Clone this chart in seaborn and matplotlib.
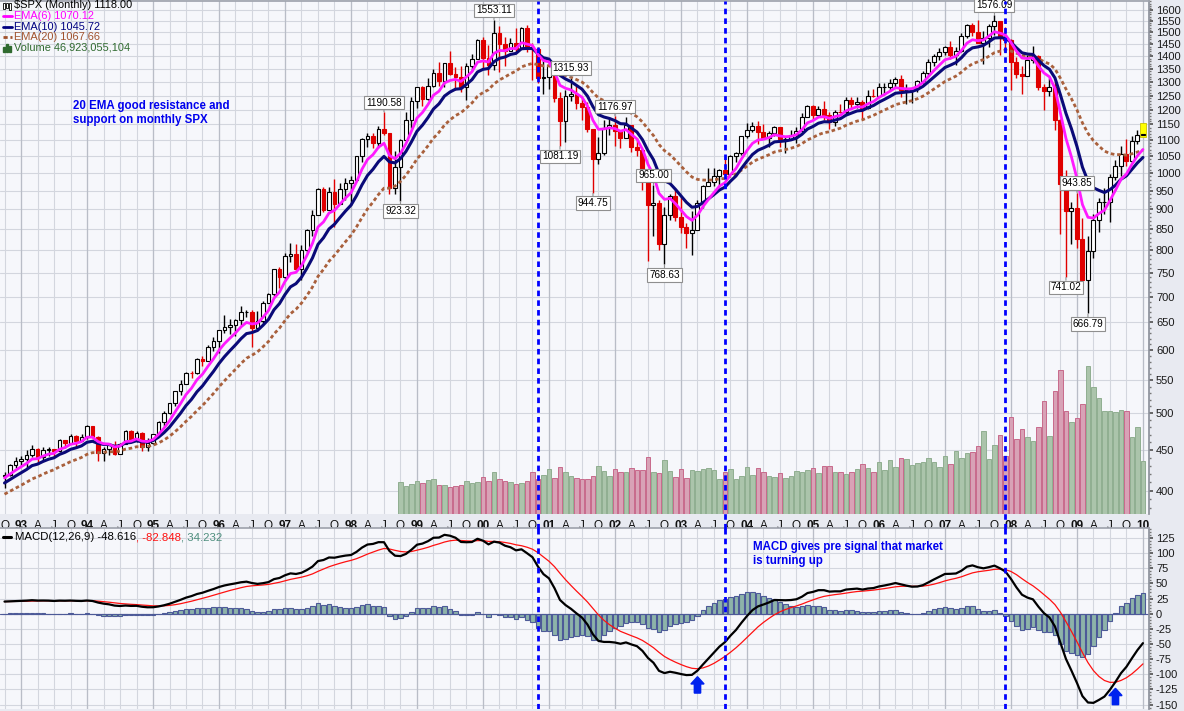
import numpy as np
import pandas as pd
import matplotlib
matplotlib.use("Agg")
import matplotlib.pyplot as plt
import seaborn as sns
from matplotlib.lines import Line2D
from matplotlib.patches import FancyArrow, Rectangle
from matplotlib.offsetbox import TextArea, HPacker, AnchoredOffsetbox
from matplotlib.ticker import FixedLocator, NullFormatter

sns.set_theme(style="white")
plt.rcParams["font.family"] = ["Liberation Sans", "DejaVu Sans"]

# ---------------- data (monthly $SPX, Oct 1992 .. Jan 2010) ----------------
first_month = "1992-10"

opens = [
    417.80, 418.68, 431.35,
    435.71, 438.78, 443.38, 451.67, 440.19, 450.19, 450.53, 448.13, 463.56, 458.93, 467.83, 461.79,
    466.45, 481.61, 467.14, 445.77, 450.91, 456.50, 444.27, 458.26, 475.49, 462.69, 472.35, 453.69,
    459.27, 470.42, 487.39, 500.71, 514.71, 533.40, 544.75, 562.06, 561.88, 584.41, 581.50, 605.37,
    615.93, 636.02, 640.43, 645.50, 654.17, 669.12, 670.63, 639.95, 651.99, 687.31, 705.27, 757.02,
    740.74, 786.16, 790.82, 757.12, 801.34, 848.28, 885.14, 954.29, 899.47, 947.28, 914.62, 955.40,
    970.43, 980.28, 1049.34, 1101.75, 1111.75, 1090.82, 1133.84, 1120.67, 957.28, 1017.01, 1098.67, 1163.63,
    1229.23, 1279.64, 1238.33, 1286.37, 1335.18, 1301.84, 1372.71, 1328.72, 1320.41, 1282.71, 1362.93, 1388.91,
    1469.25, 1394.46, 1366.42, 1498.58, 1452.43, 1420.60, 1454.60, 1430.83, 1517.68, 1436.51, 1429.40, 1314.95,
    1320.28, 1366.01, 1239.94, 1160.33, 1249.46, 1255.82, 1224.42, 1211.23, 1133.58, 1040.94, 1059.78, 1139.45,
    1148.08, 1130.20, 1106.73, 1147.39, 1076.92, 1067.14, 989.82, 911.62, 916.07, 815.28, 885.76, 936.31,
    879.82, 855.70, 841.15, 848.18, 916.92, 963.59, 974.50, 990.31, 1008.01, 995.97, 1050.71, 1058.20,
    1111.92, 1131.13, 1144.94, 1126.21, 1107.30, 1120.68, 1140.84, 1101.72, 1104.24, 1114.58, 1130.20, 1173.82,
    1211.92, 1181.27, 1203.60, 1180.59, 1156.85, 1191.50, 1191.33, 1234.18, 1220.33, 1228.81, 1207.01, 1249.48,
    1248.29, 1280.08, 1280.66, 1294.83, 1310.61, 1270.09, 1270.20, 1276.66, 1303.82, 1335.85, 1377.94, 1400.63,
    1418.30, 1438.24, 1406.82, 1420.86, 1482.37, 1530.62, 1503.35, 1455.27, 1473.99, 1526.75, 1549.38, 1481.14,
    1468.36, 1378.55, 1330.63, 1322.70, 1385.59, 1400.38, 1280.00, 1267.38, 1282.83, 1166.36, 968.75, 896.24,
    903.25, 825.88, 735.09, 797.87, 872.81, 919.14, 919.32, 987.48, 1020.62, 1057.08, 1036.19, 1095.63,
    1115.10,
]

highs = [
    422.20, 431.52, 441.28,
    442.65, 449.56, 456.88, 452.07, 453.47, 453.85, 450.53, 464.75, 463.56, 470.89, 469.74, 470.94,
    482.85, 482.23, 468.27, 453.11, 457.63, 462.12, 459.30, 477.18, 476.07, 475.23, 473.26, 466.05,
    471.36, 489.19, 503.90, 515.29, 533.41, 551.07, 563.84, 565.50, 586.21, 589.32, 608.20, 622.88,
    636.18, 664.23, 656.97, 656.68, 681.14, 673.31, 672.59, 670.70, 690.88, 707.19, 757.03, 761.75,
    794.67, 817.68, 814.90, 812.93, 851.87, 898.70, 957.73, 960.32, 960.46, 983.12, 972.56, 986.25,
    992.65, 1050.32, 1105.65, 1123.01, 1121.02, 1145.15, 1190.58, 1121.37, 1066.11, 1103.78, 1192.97, 1244.93,
    1280.07, 1283.76, 1316.50, 1350.00, 1375.98, 1375.00, 1420.33, 1357.08, 1361.90, 1373.17, 1410.68, 1473.19,
    1478.00, 1444.55, 1553.11, 1527.19, 1481.51, 1474.63, 1517.32, 1525.21, 1530.09, 1454.82, 1438.46, 1389.06,
    1383.37, 1376.38, 1263.47, 1269.30, 1315.93, 1286.62, 1239.78, 1226.27, 1133.58, 1110.61, 1163.38, 1173.62,
    1176.97, 1130.20, 1173.94, 1147.84, 1106.59, 1070.74, 994.46, 965.00, 924.02, 907.44, 941.82, 954.28,
    935.05, 864.64, 895.90, 924.24, 965.38, 1015.33, 1015.41, 1011.01, 1040.29, 1053.79, 1063.65, 1112.56,
    1155.38, 1158.98, 1163.23, 1150.57, 1127.74, 1146.34, 1140.84, 1108.60, 1131.54, 1142.05, 1188.46, 1217.33,
    1217.80, 1212.44, 1229.11, 1191.88, 1199.56, 1219.59, 1245.15, 1245.86, 1243.13, 1233.34, 1270.64, 1275.80,
    1294.90, 1297.57, 1310.88, 1318.16, 1326.70, 1290.68, 1280.42, 1306.74, 1340.28, 1389.45, 1407.89, 1431.81,
    1441.61, 1461.57, 1438.89, 1498.02, 1535.56, 1540.56, 1555.90, 1503.89, 1538.74, 1576.09, 1545.79, 1523.57,
    1471.77, 1396.02, 1359.68, 1404.57, 1440.24, 1404.05, 1292.17, 1313.15, 1303.04, 1167.03, 1007.51, 918.85,
    943.85, 877.86, 832.98, 888.70, 930.17, 956.23, 996.68, 1039.47, 1080.15, 1101.36, 1113.69, 1130.38,
    1150.45,
]

lows = [
    402.66, 416.97, 426.72,
    429.76, 426.92, 440.87, 432.36, 436.51, 441.73, 441.24, 447.26, 452.03, 458.93, 454.36, 461.79,
    464.46, 464.26, 436.16, 435.86, 443.75, 442.88, 444.27, 457.65, 462.27, 460.30, 449.05, 449.05,
    457.20, 469.29, 481.46, 499.01, 510.91, 527.41, 543.38, 553.16, 559.26, 573.50, 580.64, 597.98,
    594.87, 630.01, 627.63, 624.10, 644.65, 661.04, 605.88, 639.95, 649.29, 686.49, 701.34, 716.69,
    737.01, 773.43, 756.13, 733.54, 793.21, 833.08, 885.14, 894.75, 899.47, 855.27, 914.62, 926.01,
    912.83, 980.28, 1032.10, 1076.70, 1074.67, 1074.40, 1114.30, 939.98, 939.98, 923.32, 1098.67, 1136.89,
    1205.46, 1211.89, 1234.16, 1282.87, 1283.82, 1281.41, 1325.86, 1268.68, 1263.87, 1233.70, 1343.03, 1387.38,
    1350.14, 1325.07, 1346.62, 1339.40, 1361.09, 1420.60, 1415.33, 1430.83, 1419.44, 1305.79, 1294.90, 1254.07,
    1274.62, 1228.33, 1081.19, 1091.99, 1232.00, 1203.03, 1165.54, 1124.87, 944.75, 1026.76, 1054.31, 1114.51,
    1081.66, 1074.36, 1106.73, 1063.46, 1048.96, 952.92, 775.68, 833.44, 800.20, 768.63, 872.05, 869.45,
    840.34, 806.29, 788.90, 847.85, 902.83, 963.59, 962.10, 960.84, 990.36, 995.97, 1031.20, 1053.41,
    1105.08, 1124.44, 1087.16, 1107.23, 1076.32, 1113.32, 1078.78, 1060.72, 1101.29, 1090.19, 1127.60, 1173.76,
    1163.75, 1180.95, 1163.69, 1136.15, 1146.18, 1188.30, 1183.55, 1201.07, 1205.35, 1168.20, 1201.07, 1246.59,
    1245.74, 1253.61, 1268.42, 1280.74, 1245.34, 1219.29, 1224.54, 1261.30, 1290.93, 1327.10, 1360.98, 1385.93,
    1403.97, 1389.42, 1363.98, 1416.37, 1476.70, 1484.18, 1454.25, 1370.60, 1439.29, 1489.56, 1406.10, 1435.65,
    1270.05, 1316.75, 1256.98, 1324.35, 1373.07, 1272.00, 1200.44, 1248.64, 1133.50, 839.80, 741.02, 815.69,
    804.47, 734.52, 666.79, 783.32, 843.55, 888.86, 869.32, 978.51, 991.97, 1020.18, 1029.38, 1085.89,
    1114.00,
]

closes = [
    418.68, 431.35, 435.71,
    438.78, 443.38, 451.67, 440.19, 450.19, 450.53, 448.13, 463.56, 458.93, 467.83, 461.79, 466.45,
    481.61, 467.14, 445.77, 450.91, 456.50, 444.27, 458.26, 475.49, 462.69, 472.35, 453.69, 459.27,
    470.42, 487.39, 500.71, 514.71, 533.40, 544.75, 562.06, 561.88, 584.41, 581.50, 605.37, 615.93,
    636.02, 640.43, 645.50, 654.17, 669.12, 670.63, 639.95, 651.99, 687.31, 705.27, 757.02, 740.74,
    786.16, 790.82, 757.12, 801.34, 848.28, 885.14, 954.29, 899.47, 947.28, 914.62, 955.40, 970.43,
    980.28, 1049.34, 1101.75, 1111.75, 1090.82, 1133.84, 1120.67, 957.28, 1017.01, 1098.67, 1163.63, 1229.23,
    1279.64, 1238.33, 1286.37, 1335.18, 1301.84, 1372.71, 1328.72, 1320.41, 1282.71, 1362.93, 1388.91, 1469.25,
    1394.46, 1366.42, 1498.58, 1452.43, 1420.60, 1454.60, 1430.83, 1517.68, 1436.51, 1429.40, 1314.95, 1320.28,
    1366.01, 1239.94, 1160.33, 1249.46, 1255.82, 1224.42, 1211.23, 1133.58, 1040.94, 1059.78, 1139.45, 1148.08,
    1130.20, 1106.73, 1147.39, 1076.92, 1067.14, 989.82, 911.62, 916.07, 815.28, 885.76, 936.31, 879.82,
    855.70, 841.15, 848.18, 916.92, 963.59, 974.50, 990.31, 1008.01, 995.97, 1050.71, 1058.20, 1111.92,
    1131.13, 1144.94, 1126.21, 1107.30, 1120.68, 1140.84, 1101.72, 1104.24, 1114.58, 1130.20, 1173.82, 1211.92,
    1181.27, 1203.60, 1180.59, 1156.85, 1191.50, 1191.33, 1234.18, 1220.33, 1228.81, 1207.01, 1249.48, 1248.29,
    1280.08, 1280.66, 1294.83, 1310.61, 1270.09, 1270.20, 1276.66, 1303.82, 1335.85, 1377.94, 1400.63, 1418.30,
    1438.24, 1406.82, 1420.86, 1482.37, 1530.62, 1503.35, 1455.27, 1473.99, 1526.75, 1549.38, 1481.14, 1468.36,
    1378.55, 1330.63, 1322.70, 1385.59, 1400.38, 1280.00, 1267.38, 1282.83, 1166.36, 968.75, 896.24, 903.25,
    825.88, 735.09, 797.87, 872.81, 919.14, 919.32, 987.48, 1020.62, 1057.08, 1036.19, 1095.63, 1115.10,
    1118.00,
]

# monthly volume in billions of shares, Oct 1998 .. Jan 2010
volume_start = "1998-10"
volume_bn = [
    28.3, 24.8, 26.6, 29.2, 27.4, 30.1, 31.0, 25.7, 25.7, 23.9,
    24.8, 25.7, 29.2, 27.4, 28.3, 32.7, 29.2, 37.2, 31.0, 29.2,
    28.3, 26.6, 27.4, 29.2, 37.2, 31.0, 34.5, 39.8, 31.9, 41.6,
    37.2, 33.6, 31.9, 31.0, 31.0, 33.6, 42.5, 38.1, 33.6, 39.8,
    37.2, 37.2, 40.7, 38.9, 38.9, 50.4, 37.2, 36.3, 47.8, 38.1,
    32.7, 39.8, 31.9, 38.9, 38.1, 39.8, 40.7, 38.9, 31.0, 37.2,
    39.8, 31.0, 33.6, 41.6, 34.5, 40.7,
    37.2, 33.6, 32.7, 36.3, 31.9, 33.6, 38.1, 37.2, 38.9, 40.7,
    36.3, 42.5, 42.5, 37.2, 37.2, 35.4, 37.2, 39.8, 44.3, 40.7,
    37.2, 46.0, 38.9, 47.8, 41.6, 49.6, 48.7, 43.4, 45.1, 46.0,
    49.6, 46.0, 41.6, 51.3, 44.3, 55.8, 49.6, 54.0, 54.9, 60.2,
    73.5, 48.7, 61.1, 69.9, 51.3, 85.8, 66.4, 75.2, 68.1, 64.6,
    77.0, 100.0, 69.0, 108.9, 127.4, 91.2, 81.4, 85.0, 97.4, 131.0,
    112.4, 102.7, 91.2, 91.2, 90.3, 92.0, 91.2, 68.1, 77.0, 46.9,
]

# indicator values at the first plotted month
ema_start = {6: 415.0, 10: 409.0, 20: 396.0}
macd_start = {"fast": 408.0, "slow": 388.0, "signal": 20.0}

legend_price = r"\$SPX (Monthly) 1118.00"
legend_ema = ["EMA(6) 1070.12", "EMA(10) 1045.72", "EMA(20) 1067.66"]
legend_volume = "Volume 46,923,055,104"
legend_macd = ["MACD(12,26,9) -48.616", ", -82.848", ", 34.232"]

price_ticks = list(range(400, 1650, 50))
macd_ticks = list(range(-150, 150, 25))

peak_labels = [
    ("1190.58", "1998-07", "high"), ("923.32", "1998-10", "low"),
    ("1553.11", "2000-03", "high"), ("1315.93", "2001-05", "high"),
    ("1081.19", "2001-03", "low"), ("944.75", "2001-09", "low"),
    ("1176.97", "2002-01", "high"), ("965.00", "2002-08", "high"),
    ("768.63", "2002-10", "low"), ("1576.09", "2007-10", "high"),
    ("943.85", "2009-01", "high"), ("741.02", "2008-11", "low"),
    ("666.79", "2009-03", "low"),
]
signal_months = ["2000-11", "2003-09", "2007-12"]
arrow_months = ["2003-04", "2009-08"]

note_price = "20 EMA good resistance and\nsupport on monthly SPX"
note_macd = "MACD gives pre signal that market\nis turning up"

# ---------------- derived series ----------------
n = len(closes)
periods = pd.period_range(first_month, periods=n, freq="M")
pos = {str(p): i for i, p in enumerate(periods)}
idx = np.arange(n)
o = np.array(opens); h = np.array(highs); l = np.array(lows); c = np.array(closes)


def ema(values, span, start):
    a = 2.0 / (span + 1)
    out = [start]
    for v in values[1:]:
        out.append(out[-1] + a * (v - out[-1]))
    return np.array(out)


ema6 = ema(c, 6, ema_start[6])
ema10 = ema(c, 10, ema_start[10])
ema20 = ema(c, 20, ema_start[20])
macd = ema(c, 12, macd_start["fast"]) - ema(c, 26, macd_start["slow"])
sig = ema(macd, 9, macd_start["signal"])
hist = macd - sig

df = pd.DataFrame({"i": idx, "ema6": ema6, "ema10": ema10, "ema20": ema20,
                   "macd": macd, "signal": sig})

# ---------------- figure layout ----------------
W, H = 1184, 711
fig = plt.figure(figsize=(W / 100, H / 100), dpi=100)
fig.patch.set_facecolor("#e8eaf1")
plot_w = 1149 / W
ax = fig.add_axes([0, 1 - 514 / H, plot_w, 513 / H])
axm = fig.add_axes([0, 2 / H, plot_w, 181 / H], sharex=ax)

BG = "#f6f7fb"
GRID = "#d3d6de"
YEARGRID = "#b9bdc7"

# ---------------- price panel ----------------
ax.set_facecolor(BG)
ax.set_yscale("log")
ax.set_ylim(374, 1642)
ax.set_xlim(-0.82, 208.1)
ax.set_axisbelow(True)

month_no = np.array([p.month for p in periods])
years = np.array([p.year for p in periods])
q_idx = [i for i in idx if month_no[i] in (1, 4, 7, 10)]
q_lab = []
for i in q_idx:
    m = month_no[i]
    q_lab.append(f"{years[i] % 100:02d}" if m == 1 else {4: "A", 7: "J", 10: "O"}[m])
ax.set_xticks(q_idx)
ax.set_xticklabels(q_lab, fontsize=8.5, color="#111")
for t, lab in zip(ax.get_xticklabels(), q_lab):
    if lab.isdigit():
        t.set_fontweight("bold")
ax.xaxis.set_minor_locator(FixedLocator(list(idx)))
ax.tick_params(axis="x", which="major", length=2.5, pad=1.5, color="#666")
ax.tick_params(axis="x", which="minor", length=1.5, color="#888")
ax.grid(True, which="major", color=GRID, lw=0.8)
for i in idx[month_no == 1]:
    ax.axvline(i, color=YEARGRID, lw=0.9, zorder=0.6)
    axm.axvline(i, color=YEARGRID, lw=0.9, zorder=0.6)

for s in ("left", "bottom"):
    ax.spines[s].set_visible(False)
ax.spines["top"].set_color("#a0a4ae")
ax.spines["right"].set_color("#8e929c")

# candles
up = c >= o
wick_col = np.where(up, "black", "#e00000")
ax.vlines(idx, l, h, colors=wick_col, lw=1.0, zorder=3)
body_lo = np.minimum(o, c)
body_h = np.maximum(np.abs(c - o), 0.4)
ax.bar(idx, body_h, bottom=body_lo, width=0.72,
       color=np.where(up, "white", "#e00000"),
       edgecolor=np.where(up, "black", "#e00000"), linewidth=0.8, zorder=4)
# highlight of the current (last) bar
ax.bar([idx[-1]], [h[-1] * 1.003 - l[-1] * 0.995], bottom=l[-1] * 0.995, width=1.05,
       color="#ffff00", edgecolor="#c9c200", linewidth=0.6, zorder=3.5)

# moving averages
sns.lineplot(data=df, x="i", y="ema20", ax=ax, color="#a9603c", lw=2.0, zorder=5)
ax.lines[-1].set_linestyle((0, (1.3, 1.0)))
sns.lineplot(data=df, x="i", y="ema10", ax=ax, color="#0a0a78", lw=2.2, zorder=6)
sns.lineplot(data=df, x="i", y="ema6", ax=ax, color="#ff1aff", lw=2.0, zorder=7)
ax.set_xlabel("")
ax.set_ylabel("")

# high / low labels
for text, month, kind in peak_labels:
    i = pos[month]
    if kind == "high":
        xy, off, va = (i, h[i]), (0, 3.5), "bottom"
    else:
        xy, off, va = (i, l[i]), (0, -4), "top"
    ax.annotate(text, xy=xy, xytext=off, textcoords="offset points",
                ha="center", va=va, fontsize=7.2, color="black", zorder=9,
                bbox=dict(boxstyle="square,pad=0.18", fc="white", ec="#8f8f8f", lw=0.8),
                arrowprops=dict(arrowstyle="-", color="#8f8f8f", lw=0.8,
                                shrinkA=0, shrinkB=0.5))

# volume on its own scale
axv = ax.twinx()
axv.set_ylim(0, 454)
vi0 = pos[volume_start]
vidx = idx[vi0:]
vup = c[vi0:] >= c[vi0 - 1:-1]
axv.bar(vidx, volume_bn, width=0.86,
        color=np.where(vup, "#abc4ab", "#d8a2b6"),
        edgecolor=np.where(vup, "#90ae90", "#c8698b"), linewidth=0.7, zorder=2)
axv.yaxis.set_visible(False)
for s in axv.spines.values():
    s.set_visible(False)
axv.set_ylabel("")

# price scale on the right (after twinx, which moves it)
ax.yaxis.tick_right()
ax.yaxis.set_label_position("right")
ax.set_yticks(price_ticks)
ax.set_yticklabels([str(t) for t in price_ticks], fontsize=8, color="#1a1a1a")
ax.yaxis.set_minor_locator(FixedLocator(list(range(370, 1650, 10))))
ax.yaxis.set_minor_formatter(NullFormatter())
ax.tick_params(axis="y", which="major", length=3, pad=2, color="#555",
               left=False, labelleft=False, right=True, labelright=True)
ax.tick_params(axis="y", which="minor", length=1.5, color="#777",
               left=False, right=True)

# ---------------- MACD panel ----------------
axm.set_facecolor(BG)
axm.set_ylim(-157.3, 141.4)
axm.set_axisbelow(True)
axm.yaxis.tick_right()
axm.set_yticks(macd_ticks)
axm.set_yticklabels([str(t) for t in macd_ticks], fontsize=8, color="#1a1a1a")
axm.yaxis.set_minor_locator(FixedLocator(list(range(-155, 145, 5))))
axm.tick_params(axis="y", which="major", length=3, pad=2, color="#555")
axm.tick_params(axis="y", which="minor", length=1.5, color="#777")
axm.tick_params(axis="x", which="both", labelbottom=False, length=0)
axm.grid(True, which="major", color=GRID, lw=0.8)
for s in ("left", "bottom"):
    axm.spines[s].set_visible(False)
axm.spines["top"].set_color("#a0a4ae")
axm.spines["right"].set_color("#8e929c")

axm.bar(idx, hist, width=0.82, color="#8db3a9", edgecolor="#4d5a98", linewidth=0.8, zorder=2)
axm.axhline(0, color="#4d5a98", lw=0.8, zorder=2.5)
sns.lineplot(data=df, x="i", y="signal", ax=axm, color="#ff1010", lw=0.9, zorder=4)
sns.lineplot(data=df, x="i", y="macd", ax=axm, color="black", lw=1.6, zorder=5)
axm.set_xlabel("")
axm.set_ylabel("")

for month in arrow_months:
    i = pos[month]
    tip = min(macd[i], sig[i]) - 10
    axm.add_patch(FancyArrow(i, tip - 27, 0, 27, width=1.15, head_width=2.4,
                             head_length=12, length_includes_head=True,
                             color="#0022ee", zorder=8))

# signal lines across both panels
for month in signal_months:
    i = pos[month]
    axv.axvline(i, ymin=-0.03, ymax=1, clip_on=False, color="#0000ff", lw=2.0,
                ls=(0, (2, 1.5)), zorder=10)
    axm.axvline(i, color="#0000ff", lw=2.0, ls=(0, (2, 1.5)), zorder=10)

# ---------------- texts ----------------
fig.text(73 / W, 1 - 100 / H, note_price, ha="left", va="top", fontsize=8.3,
         fontweight="bold", color="#0000ee", linespacing=1.25)
fig.text(753 / W, 1 - 541 / H, note_macd, ha="left", va="top", fontsize=8.3,
         fontweight="bold", color="#0000ee", linespacing=1.25)

leg_rows = [(legend_price, "black"),
            (legend_ema[0], "#ff00ff"),
            (legend_ema[1], "#000080"),
            (legend_ema[2], "#a0522d"),
            (legend_volume, "#2f6a2f")]
row_y = [5.5, 16, 26.5, 37, 48]
for (txt, col), yy in zip(leg_rows, row_y):
    fig.text(14 / W, 1 - yy / H, txt, ha="left", va="center", fontsize=7.9, color=col)
ic = [("#ff00ff", "-"), ("#000080", "-"), ("#a0522d", (0, (1.5, 1)))]
for (col, ls), yy in zip(ic, row_y[1:4]):
    fig.add_artist(Line2D([3 / W, 12 / W], [1 - yy / H] * 2, color=col, lw=2, ls=ls,
                          transform=fig.transFigure))
for k, hh in enumerate([5, 8, 6]):
    fig.add_artist(Rectangle(((3 + 3 * k) / W, 1 - 52 / H), 2 / W, hh / H,
                             transform=fig.transFigure, color="#2f6a2f"))
for k, (y0, hh) in enumerate([(9, 6), (8, 5), (10, 7)]):
    fig.add_artist(Rectangle(((3 + 3 * k) / W, 1 - y0 / H), 2 / W, hh / H,
                             transform=fig.transFigure, fc="white", ec="black", lw=0.6))

parts = [TextArea(legend_macd[0], textprops=dict(color="black", fontsize=8.2)),
         TextArea(legend_macd[1], textprops=dict(color="#ff1010", fontsize=8.2)),
         TextArea(legend_macd[2], textprops=dict(color="#4f8f7f", fontsize=8.2))]
pack = HPacker(children=parts, align="center", pad=0, sep=0)
ab = AnchoredOffsetbox(loc="center left", child=pack, pad=0, borderpad=0, frameon=False,
                       bbox_to_anchor=(15 / W, 1 - 537 / H), bbox_transform=fig.transFigure)
axm.add_artist(ab)
fig.add_artist(Line2D([3 / W, 11 / W], [1 - 537 / H] * 2, color="black", lw=2.2,
                      transform=fig.transFigure))

fig.savefig("out.png", dpi=100, facecolor=fig.get_facecolor())
